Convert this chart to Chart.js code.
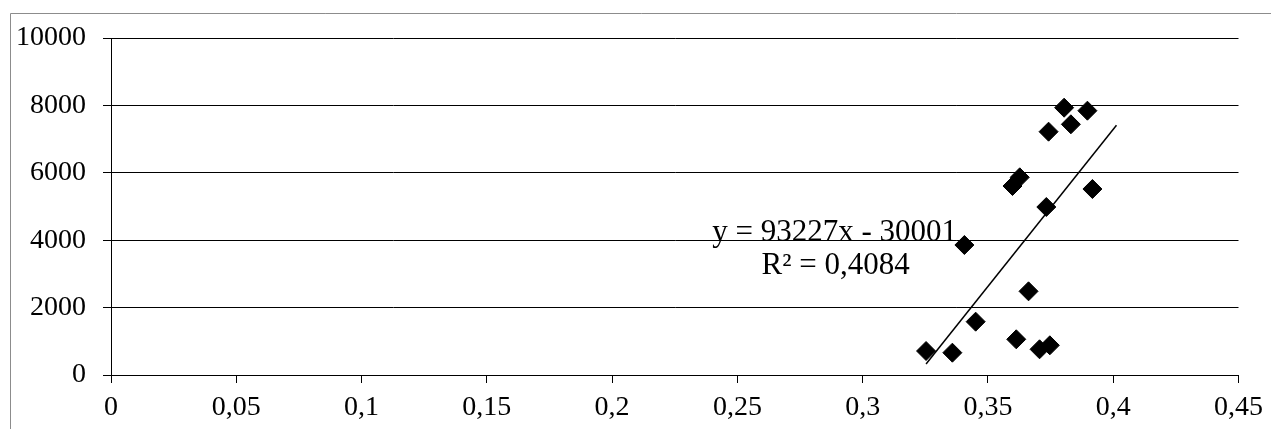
<!DOCTYPE html>
<html>
<head>
<meta charset="utf-8">
<script src="https://cdn.jsdelivr.net/npm/chart.js@4.4.1/dist/chart.umd.min.js"></script>
<style>
  html, body { margin: 0; padding: 0; background: #fff; }
  #wrap { position: relative; width: 1271px; height: 429px; }
</style>
</head>
<body>
<div id="wrap"><canvas id="c" width="1271" height="429"></canvas></div>
<script>
// Data
const xValues = [0.3253, 0.3358, 0.3406, 0.3451, 0.3598, 0.3613, 0.3627, 0.3662, 0.3706, 0.3733, 0.3742, 0.3747, 0.3804, 0.3831, 0.3897, 0.3917];
const yValues = [712, 662, 3858, 1582, 5608, 1059, 5866, 2483, 763, 4985, 7220, 881, 7932, 7439, 7843, 5519];
// Trendline as printed on the chart: y = 93227x - 30001
const trendSlope = 93227;
const trendIntercept = -30001;
const trendXRange = [0.3253, 0.4013];
const xTickLabels = ['0', '0,05', '0,1', '0,15', '0,2', '0,25', '0,3', '0,35', '0,4', '0,45'];
const yTickLabels = ['0', '2000', '4000', '6000', '8000', '10000'];
const equationText = 'y = 93227x - 30001';
const r2Text = 'R² = 0,4084';

const FONT = 'Liberation Serif, Times New Roman, serif';

const points = xValues.map((x, i) => ({ x: x, y: yValues[i] }));
const trendPoints = trendXRange.map(x => ({ x: x, y: trendSlope * x + trendIntercept }));

const framePlugin = {
  id: 'frame',
  beforeDraw(chart) {
    const ctx = chart.ctx;
    ctx.save();
    ctx.fillStyle = '#fff';
    ctx.fillRect(0, 0, chart.width, chart.height);
    ctx.strokeStyle = '#8c8c8c';
    ctx.lineWidth = 1;
    ctx.beginPath();
    ctx.moveTo(10.5, chart.height + 2);
    ctx.lineTo(10.5, 13.5);
    ctx.lineTo(chart.width + 2, 13.5);
    ctx.stroke();
    ctx.restore();
  }
};

const labelPlugin = {
  id: 'trendLabel',
  afterDatasetsDraw(chart) {
    const ctx = chart.ctx;
    const xs = chart.scales.x, ys = chart.scales.y;
    ctx.save();
    ctx.fillStyle = '#000';
    ctx.font = '31px ' + FONT;
    ctx.textAlign = 'center';
    ctx.textBaseline = 'alphabetic';
    const cx = xs.getPixelForValue(0.2888);
    ctx.fillText(equationText, cx, ys.getPixelForValue(3980));
    ctx.fillText(r2Text, cx + 1, ys.getPixelForValue(2990));
    ctx.restore();
  }
};

new Chart(document.getElementById('c'), {
  type: 'scatter',
  data: {
    datasets: [
      {
        label: 'data',
        data: points,
        pointStyle: 'rectRot',
        pointRadius: 9.5,
        pointHoverRadius: 9.5,
        backgroundColor: '#000',
        borderColor: '#000',
        borderWidth: 1,
        order: 2
      },
      {
        label: 'trend',
        type: 'line',
        data: trendPoints,
        borderColor: '#000',
        borderWidth: 1.5,
        pointRadius: 0,
        fill: false,
        order: 1
      }
    ]
  },
  options: {
    responsive: false,
    animation: false,
    devicePixelRatio: 1,
    layout: { padding: { left: 0, top: 38, right: 30, bottom: 0 } },
    plugins: { legend: { display: false }, tooltip: { enabled: false } },
    scales: {
      x: {
        type: 'linear',
        min: 0, max: 0.45,
        afterBuildTicks(scale) {
          scale.ticks = xTickLabels.map((t, i) => ({ value: i * 0.05 }));
        },
        afterFit(scale) { scale.height = 54; },
        border: { display: true, color: '#000', width: 1 },
        grid: { display: true, drawOnChartArea: false, drawTicks: true, tickLength: 8, color: '#000' },
        ticks: {
          color: '#000',
          font: { family: FONT, size: 28 },
          padding: 8,
          maxRotation: 0,
          autoSkip: false,
          callback: (v, i) => xTickLabels[i]
        }
      },
      y: {
        type: 'linear',
        min: 0, max: 10000,
        afterBuildTicks(scale) {
          scale.ticks = yTickLabels.map(t => ({ value: Number(t) }));
        },
        afterFit(scale) { scale.width = 111; },
        border: { display: true, color: '#000', width: 1 },
        grid: { display: true, drawOnChartArea: true, drawTicks: true, tickLength: 8, color: '#000' },
        ticks: {
          color: '#000',
          font: { family: FONT, size: 28 },
          padding: 17,
          autoSkip: false,
          callback: (v, i) => yTickLabels[i]
        }
      }
    }
  },
  plugins: [framePlugin, labelPlugin]
});
</script>
</body>
</html>
